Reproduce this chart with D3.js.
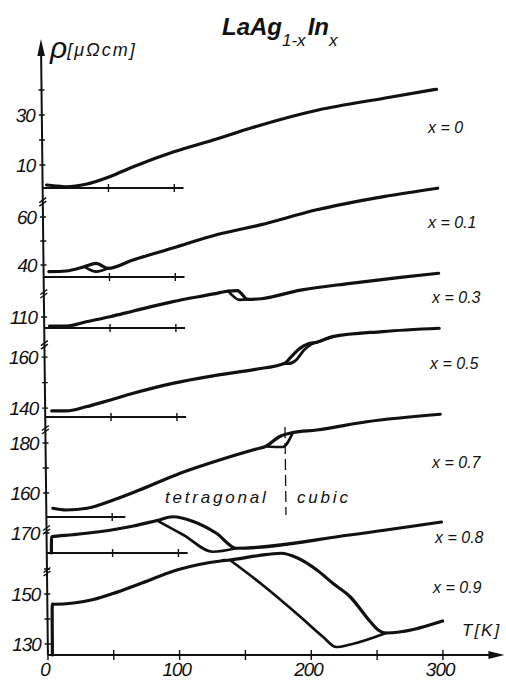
<!DOCTYPE html>
<html><head><meta charset="utf-8">
<script src="https://cdn.jsdelivr.net/npm/d3@7"></script>
<style>body{margin:0;background:#fff}svg{display:block}</style>
</head><body>
<svg id="c" width="506" height="681"></svg>
<script>
// ---------------- data ----------------
const compositions = ["0", "0.1", "0.3", "0.5", "0.7", "0.8", "0.9"];
const tempTicks = [0, 50, 100, 150, 200, 250, 300];
const tempLabels = [0, 100, 200, 300];
const panelTicks = [50, 100];
const axisBase = [0.8, 35, 105.4, 136.5, 150.4, 162, 125.6];   // resistivity at each panel baseline
const axisTop = [59.2, 67, 120.4, 165.5, 186, 172, 159.6];    // resistivity at top break of each panel
const baselineEnd = [107, 107, 107, 107, 60, 107, 300];        // K
const yTickValues = [[10, 20, 30, 40], [40, 50, 60], [110], [140, 150, 160], [160, 170, 180], [170], [130, 140, 150, 160]];
const yTickLabels = [[10, 30], [40, 60], [110], [140, 160], [160, 180], [170], [130, 150]];

// [T (K), rho (µΩcm)]
const rho_x0 = [[3,2.0],[10,1.6],[18,1.3],[33,2.3],[51,5.3],[69,9.3],[100,15.3],[130,20],[160,25],[210,32],[260,36.7],[300,40.3]];
const rho_x01 = [[4,37.2],[17,37.5],[31,39.3],[40,40.7],[49,38.6],[68,42.1],[99,47.2],[131,52.5],[165,56.7],[208,63],[259,68.5],[300,72]];
const rho_x01_b = [[31,39.3],[40,37.2],[49,38.6]];
const rho_x03 = [[4,106.2],[17,106.2],[32,108],[50,110.1],[68,112.5],[98,116.4],[129,119.6],[140,120.8],[147,121],[155,117.3],[165,117.6],[195,121.2],[233,124],[271,126.5],[300,128.2]];
const rho_x03_b = [[140,120.8],[149,117.1],[155,117.3]];
const rho_x05 = [[5,138.9],[16,138.9],[31,140.5],[49,143.1],[67,145.8],[97,149.7],[131,152.9],[160,155.2],[182,157.5],[188,160.5],[194,163.4],[200,165.1],[207,165.8],[219,168],[257,170],[300,171.3]];
const rho_x05_b = [[182,157.5],[185,157.4],[191,158.8],[197,162.7],[203,165.1],[208,166],[219,168]];
const rho_x07 = [[5,153.9],[15,153.2],[31,153.9],[51,157.2],[71,161.2],[102,167.9],[132,173.2],[160,177.6],[167,178.6],[178,182.6],[188,184.2],[206,185.2],[244,188.5],[300,191.5]];
const rho_x07_b = [[167,178.6],[180,178.4],[188,184.2]];
const rho_x08 = [[3.5,162],[3.8,168.5],[20,169.3],[40,170.5],[66,172.8],[84,175],[96,176.5],[112,174.5],[129,169.9],[144,163.9],[230,169.2],[300,174.4]];
const rho_x08_b = [[84,175],[104,169.2],[126,162.5],[144,163.9]];
const rho_x09 = [[3.4,125.6],[3.7,146],[5,145.9],[20,146.4],[35,147.8],[50,150.2],[70,154],[100,159.8],[132,163.2],[139,163.6],[160,165.3],[178,166.3],[190,164.5],[205,159.6],[217,154.3],[230,148.9],[245,139],[251,135.6],[257,134.4],[300,139.2]];
const rho_x09_b = [[139,163.6],[162,154.3],[192,140.9],[209,132.9],[219,128.8],[229,129.7],[257,134.4]];
const curves = [[rho_x0], [rho_x01, rho_x01_b], [rho_x03, rho_x03_b], [rho_x05, rho_x05_b], [rho_x07, rho_x07_b], [rho_x08, rho_x08_b], [rho_x09, rho_x09_b]];
const phaseBoundaryT = 182;

// ---------------- layout ----------------
const W = 506, H = 681;
const panelBaseY = [188, 277, 328, 417, 517, 553, 655];
const panelPx = [2.5, 2.4, 2.4, 2.55, 2.5, 2.5, 2.5];
const labelPos = [[428,133],[428,228],[432,303],[430,369],[432,468],[435,543],[433,593]];
const ink = "#111";
const font = "'Liberation Sans', Arial, sans-serif";

const svg = d3.select("#c");
svg.append("rect").attr("width", W).attr("height", H).attr("fill", "#fff");

const x = d3.scaleLinear().domain([0, 300]).range([40.5, 435.5]);
const yS = axisBase.map((b, i) => d3.scaleLinear().domain([b, axisTop[i]])
  .range([panelBaseY[i], panelBaseY[i] - (axisTop[i] - b) * panelPx[i]]));

const g = svg.append("g").attr("transform", "skewX(0.65)");
const x0 = x(0);

// vertical axis
g.append("line").attr("x1", x0).attr("x2", x0).attr("y1", 50).attr("y2", 655)
  .attr("stroke", ink).attr("stroke-width", 2);
g.append("path").attr("d", `M${x0},39 L${x0-3.8},56 L${x0+3.8},56 Z`).attr("fill", ink);

// horizontal bottom axis with arrow
g.append("line").attr("x1", x0).attr("x2", 488).attr("y1", 655).attr("y2", 655)
  .attr("stroke", ink).attr("stroke-width", 2);
g.append("path").attr("d", `M497,655 L481,651 L481,659 Z`).attr("fill", ink);
g.selectAll(".xt").data(tempTicks).join("line")
  .attr("x1", d => x(d)).attr("x2", d => x(d)).attr("y1", 650).attr("y2", 660)
  .attr("stroke", ink).attr("stroke-width", 1.4);
g.selectAll(".xl").data(tempLabels).join("text")
  .attr("x", d => x(d) - 3).attr("y", 676).attr("text-anchor", "middle")
  .attr("font-family", font).attr("font-style", "italic").attr("font-size", 19)
  .attr("letter-spacing", -1).attr("fill", ink).text(d => d);

const line = d3.line().curve(d3.curveMonotoneX);

compositions.forEach((c, i) => {
  const y = yS[i];
  const by = panelBaseY[i];
  // panel baseline
  if (i < 6) {
    g.append("line").attr("x1", x0).attr("x2", x(baselineEnd[i])).attr("y1", by).attr("y2", by)
      .attr("stroke", ink).attr("stroke-width", 2);
    g.selectAll(null).data(panelTicks.filter(t => t <= baselineEnd[i])).join("line")
      .attr("x1", d => x(d)).attr("x2", d => x(d)).attr("y1", by - 4).attr("y2", by + 4)
      .attr("stroke", ink).attr("stroke-width", 1.4);
  }
  // y ticks
  g.selectAll(null).data(yTickValues[i]).join("line")
    .attr("x1", x0 - 3).attr("x2", x0 + 3).attr("y1", d => y(d)).attr("y2", d => y(d))
    .attr("stroke", ink).attr("stroke-width", 1.4);
  g.selectAll(null).data(yTickLabels[i]).join("text")
    .attr("x", x0 - 7).attr("y", d => y(d)).attr("dy", "0.36em").attr("text-anchor", "end")
    .attr("font-family", font).attr("font-style", "italic").attr("font-size", 19)
    .attr("letter-spacing", -1).attr("fill", ink).text(d => d);
  // break marks
  if (i > 0) {
    const ty = y(axisTop[i]);
    [0, 3.5].forEach(o => {
      g.append("path").attr("d", `M${x0-3.5},${ty+o+2.5} L${x0+3.5},${ty+o-2.5}`)
        .attr("stroke", ink).attr("stroke-width", 1.5).attr("fill", "none");
    });
  }
  // curves
  curves[i].forEach((s, k) => {
    g.append("path").attr("d", line(s.map(p => [x(p[0]), y(p[1])])))
      .attr("fill", "none").attr("stroke", ink)
      .attr("stroke-width", k === 0 ? 3.2 : 2.7).attr("stroke-linejoin", "round").attr("stroke-linecap", "round");
  });
  // composition label
  svg.append("text").attr("x", labelPos[i][0]).attr("y", labelPos[i][1])
    .attr("font-family", font).attr("font-style", "italic").attr("font-size", 16)
    .attr("fill", ink).text("x = " + c);
});

// phase boundary (x = 0.7 panel)
g.append("line").attr("x1", x(phaseBoundaryT)).attr("x2", x(phaseBoundaryT))
  .attr("y1", yS[4](186.4)).attr("y2", yS[4](151.2))
  .attr("stroke", ink).attr("stroke-width", 1.3).attr("stroke-dasharray", "11,5");

svg.append("text").attr("x", 165).attr("y", 503).attr("font-family", font).attr("font-style", "italic")
  .attr("font-size", 17).attr("letter-spacing", 2.8).attr("fill", ink).text("tetragonal");
svg.append("text").attr("x", 297).attr("y", 503).attr("font-family", font).attr("font-style", "italic")
  .attr("font-size", 17).attr("letter-spacing", 2.8).attr("fill", ink).text("cubic");

// title
const t = svg.append("text").attr("x", 222).attr("y", 35).attr("font-family", font)
  .attr("font-style", "italic").attr("font-weight", "bold").attr("font-size", 24).attr("fill", ink);
t.append("tspan").text("LaAg");
t.append("tspan").attr("dy", 11).attr("font-size", 17).attr("font-weight", "normal").text("1-x");
t.append("tspan").attr("dy", -11).attr("dx", 2).text("In");
t.append("tspan").attr("dy", 11).attr("font-size", 17).attr("font-weight", "normal").text("x");

// y label
const yl = svg.append("text").attr("x", 50).attr("y", 58).attr("font-family", font)
  .attr("font-style", "italic").attr("fill", ink);
yl.append("tspan").attr("font-size", 30).text("ρ");
yl.append("tspan").attr("font-size", 18).attr("letter-spacing", 2).attr("dy", -2).text("[μΩcm]");

// T label
svg.append("text").attr("x", 462).attr("y", 636).attr("font-family", font).attr("font-style", "italic")
  .attr("font-size", 17).attr("letter-spacing", 2).attr("fill", ink).text("T[K]");
</script>
</body></html>
